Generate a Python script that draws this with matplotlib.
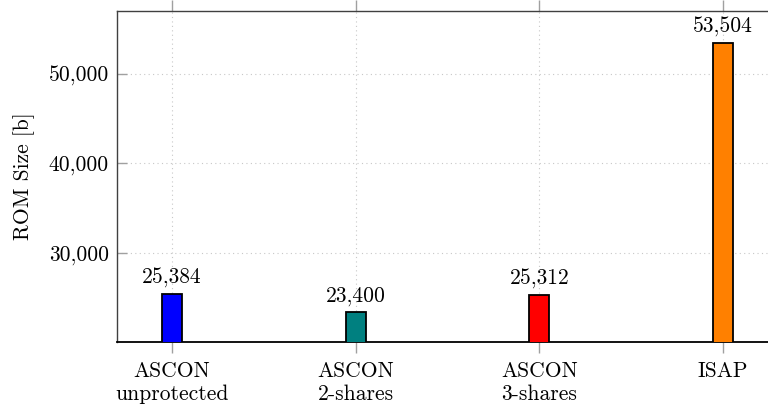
import matplotlib
matplotlib.use('Agg')
import matplotlib.pyplot as plt
import numpy as np

# ROM footprint per implementation
labels = ['ASCON\nunprotected', 'ASCON\n2-shares', 'ASCON\n3-shares', 'ISAP']
rom_size = [25384, 23400, 25312, 53504]
bar_colors = ['#0000ff', '#008080', '#ff0000', '#ff8000']
yticks = [30000, 40000, 50000]

plt.rcParams['font.family'] = ['cmr10', 'DejaVu Serif']
plt.rcParams['mathtext.fontset'] = 'cm'
plt.rcParams['axes.unicode_minus'] = False
fs = 15.5

fig = plt.figure(figsize=(7.68, 4.08), dpi=100)
ax = fig.add_axes([117 / 768, 1 - 342 / 408, (778 - 117) / 768, (342 - 10.5) / 408])

x = np.arange(len(labels))
bars = ax.bar(x, rom_size, width=0.11, color=bar_colors, edgecolor='black',
              linewidth=1.3, zorder=3)

# value labels on top of each bar
for xi, v in zip(x, rom_size):
    ax.annotate(f'{v:,}', (xi, v), xytext=(0, 4), textcoords='offset points',
                ha='center', va='bottom', fontsize=fs, zorder=4)

ax.set_xlim(-0.30, 3.30)
ax.set_ylim(20000, 57100)
ax.set_xticks(x)
ax.set_xticklabels(labels, fontsize=fs, linespacing=1.25)
ax.set_yticks(yticks)
ax.set_yticklabels([f'{t:,}' for t in yticks], fontsize=fs)
ax.set_ylabel('ROM Size [b]', fontsize=fs, labelpad=10)

ax.grid(True, linestyle=(0, (1, 3)), color='#c8c8c8', linewidth=0.8, zorder=0)
ax.tick_params(axis='x', direction='out', length=8, width=1, color='#a0a0a0',
               top=True, pad=6)
ax.tick_params(axis='y', direction='in', length=7, width=1, color='#a0a0a0',
               right=False, pad=6)

for side in ['left', 'top', 'right']:
    ax.spines[side].set_color('#404040')
    ax.spines[side].set_linewidth(1.0)
ax.spines['bottom'].set_color('black')
ax.spines['bottom'].set_linewidth(1.3)

fig.savefig('out.png', dpi=100)
